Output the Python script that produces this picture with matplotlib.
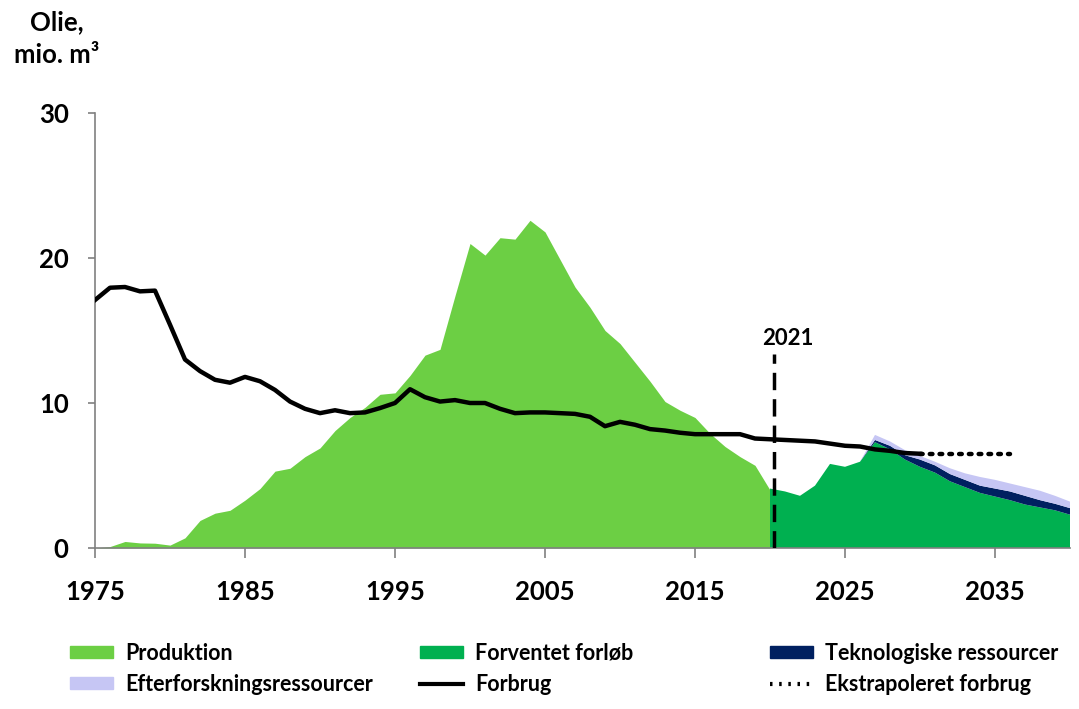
import matplotlib
matplotlib.use("Agg")
import matplotlib.pyplot as plt
from matplotlib.patches import Patch
from matplotlib.lines import Line2D
import numpy as np

plt.rcParams['font.family'] = ['Lato', 'DejaVu Sans']
plt.rcParams['font.weight'] = 'bold'

# --- data ---
prod_years = list(range(1975, 2021))
produktion = [0.0, 0.1, 0.45, 0.35, 0.33, 0.2, 0.7, 1.9, 2.4, 2.6,
              3.3, 4.1, 5.3, 5.5, 6.3, 6.9, 8.1, 9.0, 9.7, 10.6,
              10.7, 11.9, 13.3, 13.7, 17.4, 21.0, 20.2, 21.4, 21.3, 22.6,
              21.8, 19.9, 18.0, 16.6, 15.0, 14.1, 12.8, 11.5, 10.1, 9.5,
              9.0, 7.9, 7.0, 6.3, 5.7, 4.0]

proj_years = list(range(2020, 2041))
forventet = [4.1, 3.9, 3.6, 4.3, 5.8, 5.6, 5.95, 7.3, 6.8, 6.1,
             5.6, 5.2, 4.6, 4.2, 3.8, 3.55, 3.3, 3.0, 2.8, 2.6, 2.3]
teknologiske = [0, 0, 0, 0, 0, 0, 0, 0.15, 0.25, 0.3,
                0.5, 0.5, 0.5, 0.5, 0.5, 0.55, 0.6, 0.6, 0.5, 0.45, 0.45]
efterforskning = [0, 0, 0, 0, 0, 0, 0, 0.35, 0.3, 0.35,
                  0.25, 0.25, 0.4, 0.45, 0.6, 0.6, 0.55, 0.6, 0.65, 0.55, 0.45]

cons_years = list(range(1975, 2031))
forbrug = [17.1, 17.95, 18.0, 17.7, 17.75, 15.4, 13.0, 12.2, 11.6, 11.4,
           11.8, 11.5, 10.9, 10.1, 9.6, 9.3, 9.5, 9.3, 9.35, 9.65,
           10.0, 10.95, 10.4, 10.1, 10.2, 10.0, 10.0, 9.6, 9.3, 9.35,
           9.35, 9.3, 9.25, 9.05, 8.4, 8.7, 8.5, 8.2, 8.1, 7.95,
           7.85, 7.85, 7.85, 7.85, 7.55, 7.5, 7.45, 7.4, 7.35, 7.2,
           7.05, 7.0, 6.8, 6.7, 6.55, 6.5]

extra_years = [2030, 2036]
extrapoleret = [6.5, 6.5]

marker_year = 2020.3
marker_label = "2021"
marker_top = 13.4

x_ticks = [1975, 1985, 1995, 2005, 2015, 2025, 2035]
y_ticks = [0, 10, 20, 30]

# --- colours ---
c_prod = '#6CCF44'
c_forv = '#00B050'
c_tek = '#002060'
c_eft = '#C6C6F4'

fig = plt.figure(figsize=(10.79, 7.09), dpi=100)
ax = fig.add_axes([95/1079, 1-548/709, (1070-95)/1079, (548-113)/709])

ax.fill_between(prod_years, 0, produktion, color=c_prod, lw=0, zorder=2)
ax.stackplot(proj_years, forventet, teknologiske, efterforskning,
             colors=[c_forv, c_tek, c_eft], lw=0, zorder=2)
ax.plot(cons_years, forbrug, color='black', lw=3.2, zorder=4, solid_joinstyle='round')
ax.plot(extra_years, extrapoleret, color='black', lw=3.2, ls=(0, (0.6, 1.6)),
        zorder=4, dash_capstyle='round')
ax.plot([marker_year, marker_year], [0, marker_top], color='black', lw=2.5,
        ls=(0, (5, 2.6)), zorder=5)
ax.text(marker_year + 0.9, marker_top + 0.35, marker_label, ha='center', va='bottom',
        fontsize=16, fontweight='bold')

ax.set_xlim(1975, 2040)
ax.set_ylim(0, 30)
ax.set_xticks(x_ticks)
ax.set_yticks(y_ticks)
ax.tick_params(axis='both', labelsize=18.5, colors='#808080', labelcolor='black',
               direction='out', width=1.2)
ax.tick_params(axis='x', length=7, pad=16)
ax.tick_params(axis='y', length=5, pad=14)
for lab in ax.get_xticklabels() + ax.get_yticklabels():
    lab.set_fontweight('bold')
for s in ['top', 'right']:
    ax.spines[s].set_visible(False)
for s in ['left', 'bottom']:
    ax.spines[s].set_color('#808080')
    ax.spines[s].set_linewidth(1.2)

fig.text(57/1079, 1-22/709, "Olie,", ha='center', va='center', fontsize=18.5, fontweight='bold')
fig.text(57/1079, 1-55/709, "mio. m³", ha='center', va='center', fontsize=18.5, fontweight='bold')

# legend in three columns
cols = [
    ([Patch(color=c_prod), Patch(color=c_eft)], ["Produktion", "Efterforskningsressourcer"], 70),
    ([Patch(color=c_forv), Line2D([], [], color='black', lw=3)], ["Forventet forløb", "Forbrug"], 420),
    ([Patch(color=c_tek), Line2D([], [], color='black', lw=3, ls=(0, (0.6, 1.6)))],
     ["Teknologiske ressourcer", "Ekstrapoleret forbrug"], 770),
]
for handles, labels, xpx in cols:
    fig.legend(handles, labels, loc='upper left', bbox_to_anchor=(xpx/1079, 1-643/709),
               frameon=False, handlelength=2.0, handleheight=0.5,
               handletextpad=0.55, labelspacing=0.45, borderpad=0, borderaxespad=0,
               prop={'weight': 'bold', 'size': 15.5})

fig.savefig('out.png', dpi=100)
